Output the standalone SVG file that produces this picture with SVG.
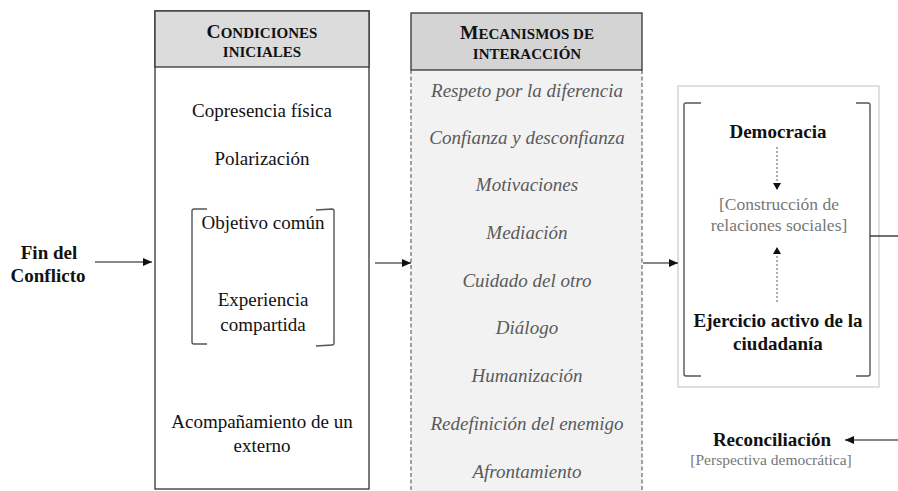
<svg xmlns="http://www.w3.org/2000/svg" width="898" height="491" viewBox="0 0 898 491" font-family="Liberation Serif, Times New Roman, serif">
<defs>
<style>
.t{font-family:"Liberation Serif",serif;font-size:19px;fill:#111;text-anchor:middle;}
.b{font-family:"Liberation Serif",serif;font-size:19px;font-weight:bold;fill:#111;text-anchor:middle;}
.i{font-family:"Liberation Serif",serif;font-size:19px;font-style:italic;fill:#5a5a5a;text-anchor:middle;}
.g{font-family:"Liberation Serif",serif;font-size:17.5px;fill:#777;text-anchor:middle;}
.g2{font-family:"Liberation Serif",serif;font-size:15.5px;fill:#777;text-anchor:middle;}
.h{font-family:"Liberation Serif",serif;font-weight:bold;fill:#111;text-anchor:middle;font-size:15px;}
.big{font-size:19.5px;}
.ln{stroke:#111;stroke-width:1.2;fill:none;}
.br{stroke:#555;stroke-width:1.4;fill:none;}
.dot{stroke:#777;stroke-width:1.2;stroke-dasharray:2,2;fill:none;}
</style>
<marker id="ah" markerWidth="10" markerHeight="10" refX="9" refY="5" orient="auto" markerUnits="userSpaceOnUse">
<path d="M0,1 L9,5 L0,9 Z" fill="#111"/>
</marker>
<marker id="ahs" markerWidth="8" markerHeight="10" refX="7" refY="5" orient="auto" markerUnits="userSpaceOnUse">
<path d="M0,1 L7,5 L0,9 Z" fill="#111"/>
</marker>
</defs>
<rect width="898" height="491" fill="#fff"/>

<g id="fin">
<text class="b" x="49" y="259">Fin del</text>
<text class="b" x="48" y="282">Conflicto</text>
</g>

<g id="condiciones">
<rect x="155" y="11" width="214" height="478" fill="#fff" stroke="#333" stroke-width="1.3"/>
<rect x="155" y="11" width="214" height="56" fill="#dcdcdc" stroke="#333" stroke-width="1.3"/>
<text class="h" x="262" y="38"><tspan class="big">C</tspan>ONDICIONES</text>
<text class="h" x="262" y="57">INICIALES</text>
<text class="t" x="262" y="117">Copresencia física</text>
<text class="t" x="262" y="165">Polarización</text>
<path class="br" d="M207,209 L194,209 Q192,209 192,211 L192,342 Q192,344 194,344 L207,344"/>
<path class="br" d="M316,210 L332,209 Q334,209 334,211 L334,343 Q334,345 332,345 L316,346"/>
<text class="t" x="263" y="229">Objetivo común</text>
<text class="t" x="263" y="306">Experiencia</text>
<text class="t" x="263" y="331">compartida</text>
<text class="t" x="262" y="428">Acompañamiento de un</text>
<text class="t" x="262" y="452">externo</text>
</g>

<g id="mecanismos">
<rect x="411" y="70" width="231" height="430" fill="#f2f2f2"/>
<path d="M411,70 L411,491 M642,70 L642,491" stroke="#666" stroke-width="1.2" stroke-dasharray="4,2.5" fill="none"/>
<rect x="411" y="13" width="231" height="57" fill="#d4d4d4" stroke="#333" stroke-width="1.3"/>
<text class="h" x="527" y="39"><tspan class="big">M</tspan>ECANISMOS DE</text>
<text class="h" x="527" y="59">INTERACCIÓN</text>
<text class="i" x="527" y="97">Respeto por la diferencia</text>
<text class="i" x="527" y="144">Confianza y desconfianza</text>
<text class="i" x="527" y="191">Motivaciones</text>
<text class="i" x="527" y="239">Mediación</text>
<text class="i" x="527" y="287">Cuidado del otro</text>
<text class="i" x="527" y="334">Diálogo</text>
<text class="i" x="527" y="382">Humanización</text>
<text class="i" x="527" y="430">Redefinición del enemigo</text>
<text class="i" x="527" y="478">Afrontamiento</text>
</g>

<g id="democracia">
<rect x="678" y="86" width="201" height="301" fill="#fff" stroke="#ccc" stroke-width="1.2"/>
<path class="br" d="M701,103 L686,103 Q684,103 684,105 L684,374 Q684,376 686,376 L701,376"/>
<path class="br" d="M856,103 L868,103 Q870,103 870,105 L870,374 Q870,376 868,376 L856,376"/>
<text class="b" x="778" y="138">Democracia</text>
<text class="g" x="779" y="210">[Construcción de</text>
<text class="g" x="779" y="231">relaciones sociales]</text>
<text class="b" x="778" y="327">Ejercicio activo de la</text>
<text class="b" x="778" y="350">ciudadanía</text>
</g>

<g id="reconciliacion">
<text class="b" x="772" y="446">Reconciliación</text>
<text class="g2" x="771" y="465">[Perspectiva democrática]</text>
</g>

<g id="connectors">
<line class="ln" x1="95" y1="262" x2="152" y2="262" marker-end="url(#ah)"/>
<line class="ln" x1="375" y1="263" x2="411" y2="263" marker-end="url(#ah)"/>
<line class="ln" x1="643" y1="263" x2="678" y2="263" marker-end="url(#ah)"/>
<line class="dot" x1="777" y1="147" x2="777" y2="190" marker-end="url(#ahs)"/>
<line class="dot" x1="777" y1="302" x2="777" y2="247" marker-end="url(#ahs)"/>
<line class="ln" x1="870" y1="236" x2="898" y2="236" stroke="#555"/>
<line class="ln" x1="898" y1="440" x2="845" y2="440" stroke="#555" marker-end="url(#ah)"/>
</g>
</svg>
